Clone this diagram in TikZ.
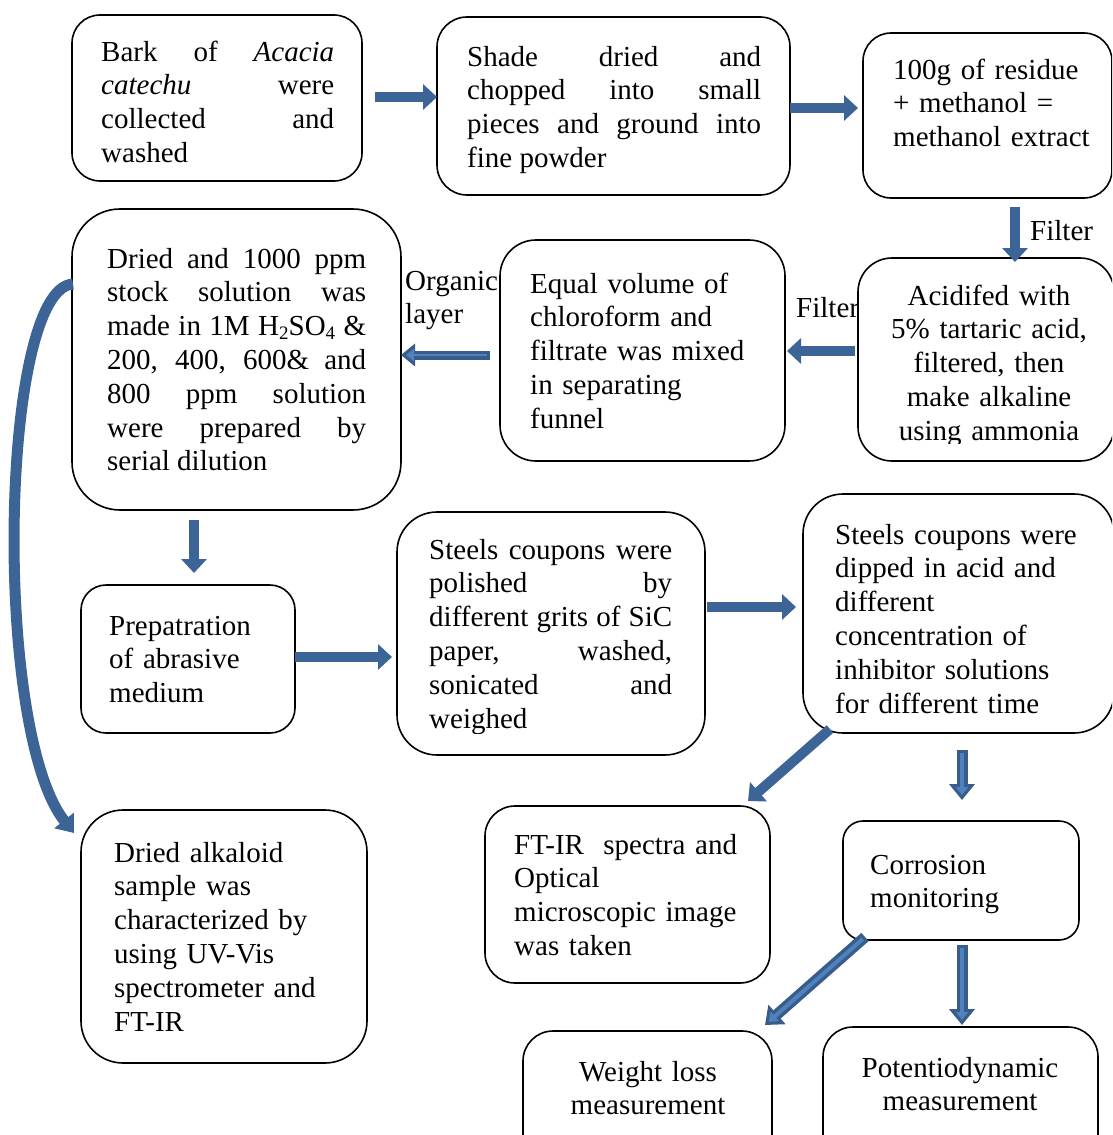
\documentclass[tikz,border=0pt]{standalone}
\usepackage{fontspec}
\setmainfont{Liberation Serif}
\usetikzlibrary{arrows.meta}
\definecolor{arrowc}{RGB}{60,100,150}
\definecolor{arrowdark}{RGB}{56,93,138}
\definecolor{arrowlight}{RGB}{79,129,189}
\newcommand\fs{\fontsize{29pt}{33.8pt}\selectfont\tolerance=10000 \hbadness=10000 }
\newcommand\sub[1]{\raisebox{-0.12em}{\fontsize{19pt}{20pt}\selectfont #1}}
\tikzset{
  box/.style={draw, line width=1.6pt, rounded corners=#1, inner sep=0pt},
  txt/.style={inner sep=0pt, anchor=base west, font=\fs, align=left, text width=300pt},
  ctxt/.style={inner sep=0pt, anchor=base, font=\fs, align=center, text width=260pt},
  jtxt/.style={inner sep=0pt, anchor=base west, font=\fs, align=justify, text width=#1},
  barrow/.style={draw=arrowc, line width=10pt, -{Triangle[length=14pt,width=25pt]}},
  oarrow/.style={draw=arrowdark, line width=11pt, -{Triangle[length=16pt,width=25pt]}},
  iarrow/.style={draw=arrowlight, line width=4pt, shorten >=5pt, shorten <=3pt, -{Triangle[length=8pt,width=12pt]}}
}
\begin{document}
\begin{tikzpicture}[x=1pt,y=-1pt]
\useasboundingbox (0,0) rectangle (1112,1135);
\clip (0,0) rectangle (1112,1135);
\fill[white] (0,0) rectangle (1112,1135);

% boxes
\node[box=28pt, minimum width=290pt, minimum height=166pt] (A) at (217,98) {};
\node[box=30pt, minimum width=353pt, minimum height=178pt] (B) at (613.5,106) {};
\node[box=28pt, minimum width=249pt, minimum height=165pt] (C) at (987.5,115.5) {};
\node[box=34pt, minimum width=256pt, minimum height=203pt] (D) at (986,359.5) {};
\node[box=36pt, minimum width=285pt, minimum height=221pt] (E) at (642.5,350.5) {};
\node[box=48pt, minimum width=329pt, minimum height=301pt] (F) at (236.5,359.5) {};
\node[box=25pt, minimum width=214pt, minimum height=148pt] (G) at (188,659) {};
\node[box=40pt, minimum width=308pt, minimum height=243pt] (H) at (551,633.5) {};
\node[box=40pt, minimum width=311pt, minimum height=239pt] (I) at (958.5,613.5) {};
\node[box=42pt, minimum width=286pt, minimum height=253pt] (J) at (224,936.5) {};
\node[box=30pt, minimum width=285pt, minimum height=177pt] (K) at (627.5,894.5) {};
\node[box=20pt, minimum width=236pt, minimum height=119pt] (L) at (961,880.5) {};
\node[box=30pt, minimum width=249pt, minimum height=139pt] (M) at (647.5,1100.5) {};
\node[box=30pt, minimum width=275pt, minimum height=143pt] (N) at (960.5,1098.5) {};

% texts
\node[jtxt=233pt] (tA) at (101,61) {Bark of \textit{Acacia}\linebreak \textit{catechu} were\linebreak collected and\linebreak washed};
\node[jtxt=294pt] (tB) at (467,66) {Shade dried and\linebreak chopped into small\linebreak pieces and ground into\linebreak fine powder};
\node[txt] (tC) at (893,79) {100g of residue\\+ methanol =\\methanol extract};
\begin{scope}
\clip (850,250) rectangle (1112,443);
\node[ctxt] (tD) at (989,305) {Acidifed with\\5\% tartaric acid,\\filtered, then\\make alkaline\\using ammonia};
\end{scope}
\node[txt] (tE) at (530,293) {Equal volume of\\chloroform and\\filtrate was mixed\\in separating\\funnel};
\node[jtxt=259pt] (tF) at (107,268) {Dried and 1000 ppm\linebreak stock solution was\linebreak made in 1M H\sub{2}SO\sub{4} \&\linebreak 200, 400, 600\& and\linebreak 800 ppm solution\linebreak were prepared by\linebreak serial dilution};
\node[txt] (tG) at (109,635) {Prepatration\\of abrasive\\medium};
\begin{scope}
\clip (400,500) rectangle (705,733);
\node[jtxt=243pt] (tH) at (429,559) {Steels coupons were\linebreak polished by\linebreak different grits of SiC\linebreak paper, washed,\linebreak sonicated and\linebreak weighed};
\end{scope}
\node[txt] (tI) at (835,544) {Steels coupons were\\dipped in acid and\\different\\concentration of\\inhibitor solutions\\for different time};
\node[txt] (tJ) at (114,862) {Dried alkaloid\\sample was\\characterized by\\using UV-Vis\\spectrometer and\\FT-IR};
\node[txt] (tK) at (514,854) {FT-IR\ \ spectra and\\Optical\\microscopic image\\was taken};
\node[txt] (tL) at (870,874) {Corrosion\\monitoring};
\node[ctxt] (tM) at (648,1081) {Weight loss\\measurement};
\node[ctxt] (tN) at (960,1077) {Potentiodynamic\\measurement};

% labels
\node[txt, text width=80pt] (f1) at (1030,240) {Filter};
\node[txt, text width=80pt] (f2) at (796,317) {Filter};
\node[txt, text width=100pt] (org) at (405,290) {Organic\\layer};

% arrow end points
\coordinate (ab1) at (375,97);  \coordinate (ab2) at (437,97);
\coordinate (bc1) at (790,108); \coordinate (bc2) at (858,108);
\coordinate (cd1) at (1015,207); \coordinate (cd2) at (1015,262);
\coordinate (de1) at (855,351); \coordinate (de2) at (787,351);
\coordinate (ef1) at (490,355); \coordinate (ef2) at (401,355);
\coordinate (fg1) at (194,520); \coordinate (fg2) at (194,573);
\coordinate (gh1) at (295,657); \coordinate (gh2) at (392,657);
\coordinate (hi1) at (707,607); \coordinate (hi2) at (796,607);
\coordinate (ik1) at (830,729); \coordinate (ik2) at (748,801);
\coordinate (il1) at (962,750); \coordinate (il2) at (962,800);
\coordinate (lm1) at (865,937); \coordinate (lm2) at (765,1025);
\coordinate (ln1) at (962,945); \coordinate (ln2) at (962,1025);
\coordinate (fj1) at (73,284); \coordinate (fj2) at (74,833);

% arrows
\draw[barrow] (ab1) -- (ab2);
\draw[barrow] (bc1) -- (bc2);
\draw[barrow] (cd1) -- (cd2);
\draw[barrow] (de1) -- (de2);
\draw[oarrow, line width=9pt, -{Triangle[length=14pt,width=22pt]}] (ef1) -- (ef2);
\draw[iarrow, line width=2pt] (ef1) -- (ef2);
\draw[barrow] (fg1) -- (fg2);
\draw[barrow] (gh1) -- (gh2);
\draw[barrow] (hi1) -- (hi2);
\draw[barrow] (ik1) -- (ik2);
\draw[oarrow] (il1) -- (il2);
\draw[iarrow] (il1) -- (il2);
\draw[oarrow] (lm1) -- (lm2);
\draw[iarrow] (lm1) -- (lm2);
\draw[oarrow] (ln1) -- (ln2);
\draw[iarrow] (ln1) -- (ln2);
\draw[barrow, line width=11pt, -{Triangle[length=16pt,width=24pt]}] (fj1) .. controls (0,288) and (-8,730) .. (fj2);
\end{tikzpicture}
\end{document}
